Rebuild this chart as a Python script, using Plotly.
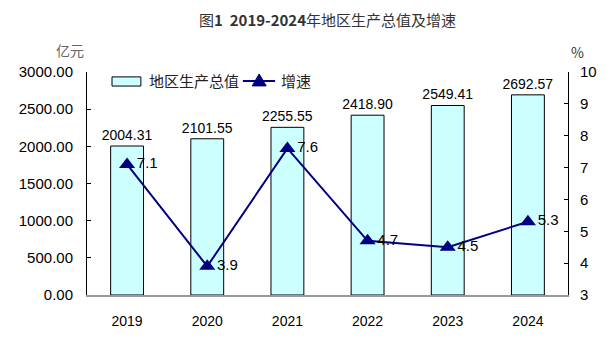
import plotly.graph_objects as go

years = ["2019", "2020", "2021", "2022", "2023", "2024"]
gdp = [2004.31, 2101.55, 2255.55, 2418.90, 2549.41, 2692.57]
growth = [7.1, 3.9, 7.6, 4.7, 4.5, 5.3]
left_ticks = [0, 500, 1000, 1500, 2000, 2500, 3000]
right_ticks = [3, 4, 5, 6, 7, 8, 9, 10]
series_names = ["地区生产总值", "增速"]

cjk = "Noto Sans CJK SC, Noto Sans, DejaVu Sans"
latin = "Liberation Sans, Arial, sans-serif"
navy = "#000080"

fig = go.Figure()
fig.add_trace(go.Bar(
    x=years, y=gdp, name=series_names[0],
    marker=dict(color="#CCFFFF", line=dict(color="#000000", width=1)),
    width=0.41,
    text=[f"{v:.2f}" for v in gdp], textposition="outside",
    constraintext="none",
    textfont=dict(size=14, color="#000000", family=latin),
    cliponaxis=False,
))
fig.add_trace(go.Scatter(
    x=years, y=growth, name=series_names[1], yaxis="y2",
    mode="lines+markers+text",
    line=dict(color=navy, width=2),
    marker=dict(symbol="triangle-up", size=14, color=navy),
    text=[f"{v:.1f}" for v in growth], textposition="middle right",
    textfont=dict(size=15, color="#000000", family=latin),
    cliponaxis=False,
))

shapes = [
    dict(type="rect", xref="paper", yref="paper", x0=0.052, x1=0.112, y0=0.937, y1=0.978,
         fillcolor="#CCFFFF", line=dict(color="#000000", width=1)),
    dict(type="line", xref="paper", yref="paper", x0=0.324, x1=0.391, y0=0.96, y1=0.96,
         line=dict(color=navy, width=2)),
    dict(type="path", xref="paper", yref="paper", xsizemode="pixel", ysizemode="pixel",
         xanchor=0.358, yanchor=0.96, path="M -7,-5 L 7,-5 L 0,7 Z",
         fillcolor=navy, line=dict(color=navy, width=1)),
]

fig.update_layout(
    width=616, height=359,
    margin=dict(l=87, r=48, t=72, b=64),
    paper_bgcolor="white", plot_bgcolor="white",
    font=dict(family=cjk, size=14, color="#000000"),
    showlegend=False,
    bargap=0.59,
    shapes=shapes,
    xaxis=dict(showline=True, linecolor="#999999", linewidth=1.5, ticks="",
               tickfont=dict(size=14, family=latin), showgrid=False, automargin=False,
               ticklabelstandoff=12),
    yaxis=dict(range=[0, 3000], tickvals=left_ticks,
               ticktext=[f"{v:.2f}" for v in left_ticks],
               showline=True, linecolor="#000000", linewidth=1, ticks="inside",
               ticklen=4, tickcolor="#000000", showgrid=False, zeroline=False,
               tickfont=dict(size=15, family=latin), automargin=False,
               ticklabelstandoff=10),
    yaxis2=dict(range=[3, 10], tickvals=right_ticks, overlaying="y", side="right",
                showline=True, linecolor="#000000", linewidth=1, ticks="inside",
                ticklen=4, tickcolor="#000000", showgrid=False, zeroline=False,
                tickfont=dict(size=15, family=latin), automargin=False,
                ticklabelstandoff=8),
    annotations=[
        dict(text="图<b>1  2019-2024</b>年地区生产总值及增速", x=0.5, y=1.0, yshift=40,
             xref="paper", yref="paper", xanchor="center", yanchor="bottom", showarrow=False,
             font=dict(size=15, color="#333333")),
        dict(text="亿元", xref="paper", yref="paper", x=-0.035, y=1.0, yshift=10,
             xanchor="center", yanchor="bottom", showarrow=False,
             font=dict(size=14, color="#666666")),
        dict(text="%", xref="paper", yref="paper", x=1.02, y=1.0, yshift=8,
             xanchor="center", yanchor="bottom", showarrow=False,
             font=dict(size=14, color="#333333")),
        dict(text=series_names[0], xref="paper", yref="paper", x=0.125, y=0.96,
             xanchor="left", yanchor="middle", showarrow=False,
             font=dict(size=15, color="#222222")),
        dict(text=series_names[1], xref="paper", yref="paper", x=0.399, y=0.96,
             xanchor="left", yanchor="middle", showarrow=False,
             font=dict(size=15, color="#222222")),
    ],
)

fig.write_html("out.html", config={"displayModeBar": False},
               post_script="document.body.style.margin='0px';")
